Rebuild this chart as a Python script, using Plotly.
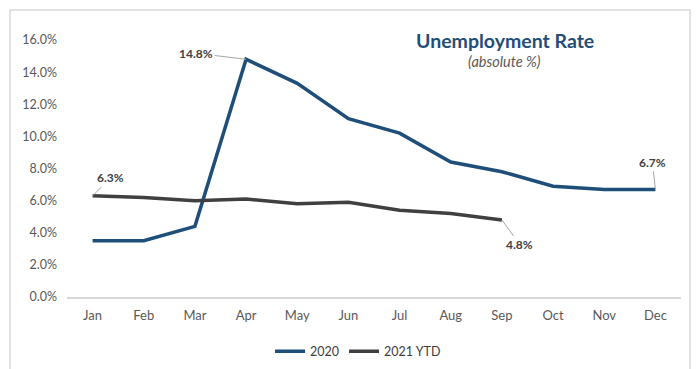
import plotly.graph_objects as go

months = ["Jan", "Feb", "Mar", "Apr", "May", "Jun", "Jul", "Aug", "Sep", "Oct", "Nov", "Dec"]
rate_2020 = [3.5, 3.5, 4.4, 14.8, 13.3, 11.1, 10.2, 8.4, 7.8, 6.9, 6.7, 6.7]
rate_2021 = [6.3, 6.2, 6.0, 6.1, 5.8, 5.9, 5.4, 5.2, 4.8]
y_ticks = [0, 2, 4, 6, 8, 10, 12, 14, 16]

BLUE = "#1F4E79"
GRAY = "#404040"
FONT = "Lato"

fig = go.Figure()
fig.add_trace(go.Scatter(x=months, y=rate_2020, mode="lines", name="2020",
                         line=dict(color=BLUE, width=3.5)))
fig.add_trace(go.Scatter(x=months[:len(rate_2021)], y=rate_2021, mode="lines", name="2021 YTD",
                         line=dict(color=GRAY, width=3.5)))

def lab(i, series, ax, ay):
    fig.add_annotation(x=months[i], y=series[i], text=f"<b>{series[i]:.1f}%</b>",
                       showarrow=True, arrowhead=0, arrowwidth=1, arrowcolor="#a6a6a6",
                       ax=ax, ay=ay, font=dict(family=FONT, size=12, color="#404040"))

lab(3, rate_2020, -50, -6)
lab(11, rate_2020, -3, -27)
lab(0, rate_2021, 18, -18)
lab(8, rate_2021, 18, 25)

fig.add_annotation(xref="paper", yref="paper", x=0.713, y=0.998, xanchor="center", yanchor="middle",
                   text="<b>Unemployment Rate</b>",
                   showarrow=False, font=dict(family=FONT, size=19.5, color=BLUE))
fig.add_annotation(xref="paper", yref="paper", x=0.713, y=0.918, xanchor="center", yanchor="middle",
                   text="<i>(absolute %)</i>",
                   showarrow=False, font=dict(family=FONT, size=14.5, color="#595959"))

fig.add_shape(type="rect", xref="paper", yref="paper", x0=-0.0928, x1=1.0147, y0=-0.3, y1=1.1167,
              line=dict(color="#d9d9d9", width=1.5), fillcolor="rgba(0,0,0,0)")

fig.update_xaxes(showgrid=False, showline=True, linecolor="#d9d9d9", linewidth=1.5, automargin=False,
                 ticks="", ticklabelstandoff=6, tickfont=dict(family=FONT, size=13, color="#595959"),
                 range=[-0.5, 11.5])
fig.update_yaxes(range=[0, 16], tickvals=y_ticks, ticktext=[f"{v:.1f}%" for v in y_ticks],
                 showgrid=False, zeroline=False, showline=False, ticks="", ticklabelstandoff=9,
                 automargin=False, tickfont=dict(family=FONT, size=12.5, color="#595959"))

fig.update_layout(
    width=696, height=369,
    margin=dict(l=67, r=15, t=40, b=72),
    paper_bgcolor="white", plot_bgcolor="white",
    font=dict(family=FONT),
    legend=dict(orientation="h", xanchor="center", x=0.474, yref="container", yanchor="top", y=0.088,
                bgcolor="rgba(0,0,0,0)",
                font=dict(family=FONT, size=12.5, color="#404040")),
)
fig.write_html("out.html")
